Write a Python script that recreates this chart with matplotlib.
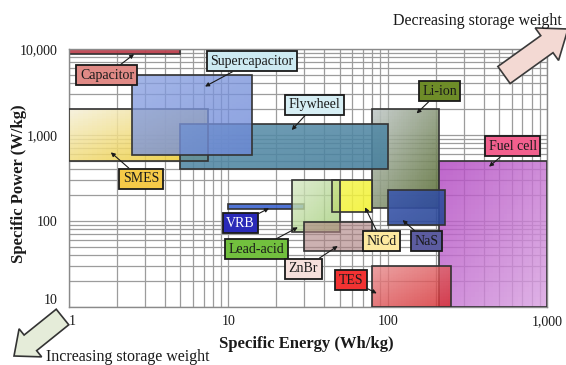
import numpy as np
import matplotlib
matplotlib.use("Agg")
import matplotlib.pyplot as plt
import matplotlib.patches as mpatches
from matplotlib.colors import LinearSegmentedColormap
from matplotlib.ticker import FixedLocator, FixedFormatter, NullFormatter

# Ragone data: specific energy (Wh/kg) and specific power (W/kg) ranges
technologies = ["Capacitor", "Supercapacitor", "SMES", "Flywheel", "Li-ion", "Fuel cell",
                "TES", "NaS", "NiCd", "Lead-acid", "ZnBr", "VRB"]
energy_low = [1, 2.5, 1, 5, 80, 210, 80, 100, 45, 25, 30, 10]
energy_high = [5, 14, 7.5, 100, 210, 1000, 250, 230, 80, 50, 80, 30]
power_low = [8700, 580, 500, 400, 140, 10, 10, 90, 125, 75, 45, 137]
power_high = [10000, 5000, 2000, 1340, 2000, 500, 30, 230, 300, 300, 96, 156]

x_ticks = [1, 10, 100, 1000]
x_tick_labels = ["1", "10", "100", "1,000"]
y_ticks = [10, 100, 1000, 10000]
y_tick_labels = ["10", "100", "1,000", "10,000"]

# box styling: base colour, light corner colour, gradient strength, alpha, zorder
box_style = {
    "Capacitor":      ("#bb3c4a", "#d88890", 0.2, 0.95, 2),
    "Li-ion":         ("#55692e", "#d4dae4", 0.85, 0.88, 2),
    "Flywheel":       ("#467f9c", "#86b0c6", 0.35, 0.88, 3),
    "SMES":           ("#ecc820", "#f6f4ee", 0.9, 0.85, 3),
    "Supercapacitor": ("#6a86d6", "#aabcec", 0.5, 0.78, 4),
    "Fuel cell":      ("#b044c0", "#e6c2ec", -0.75, 0.82, 3),
    "TES":            ("#d42a2e", "#f0b8b8", 0.7, 0.82, 4),
    "NaS":            ("#2a4696", "#4f6cc4", 0.5, 0.9, 5),
    "NiCd":           ("#f2f22a", "#f8f88a", 0.4, 0.85, 5),
    "VRB":            ("#3a62d0", "#5a80e0", 0.2, 0.9, 4),
    "Lead-acid":      ("#a0cc74", "#e4eed8", 0.8, 0.78, 5),
    "ZnBr":           ("#a87a7a", "#c8a8a8", 0.3, 0.62, 6),
}

# callout labels: text centre, arrow target (data units), fill, text colour
callouts = {
    "Capacitor":      ((1.73, 4980), (2.56, 8700), "#e08a86", "#1a1a1a"),
    "Supercapacitor": ((14.1, 7200), (7.14, 3660), "#cdeaf2", "#1a1a1a"),
    "Flywheel":       ((34.9, 2240), (25.0, 1140), "#d6eef4", "#1a1a1a"),
    "Li-ion":         ((212, 3230), (152, 1780), "#6e8c28", "#1a1a1a"),
    "Fuel cell":      ((611, 738), (433, 427), "#f2608e", "#1a1a1a"),
    "SMES":           ((2.83, 309), (1.83, 627), "#f6ca48", "#1a1a1a"),
    "VRB":            ((11.9, 94.2), (18.0, 140), "#2a2ab8", "white"),
    "Lead-acid":      ((15.0, 46.4), (27.3, 84), "#72c03e", "#1a1a1a"),
    "ZnBr":           ((29.6, 27.7), (48.6, 50.9), "#f6e0dc", "#1a1a1a"),
    "NiCd":           ((91.8, 57.9), (72.1, 143.6), "#fde9a0", "#1a1a1a"),
    "NaS":            ((176, 57.9), (124, 102), "#5c5ca0", "#1a1a1a"),
    "TES":            ((59.1, 20.3), (85.4, 14.3), "#f23232", "#1a1a1a"),
}

plt.rcParams["font.family"] = ["Liberation Serif", "DejaVu Serif"]


def shade_box(ax, x0, x1, y0, y1, base, light, strength, alpha, z):
    """Fill a log-space rectangle with a diagonal light-to-base gradient."""
    n = 30
    xs = np.logspace(np.log10(x0), np.log10(x1), n + 1)
    ys = np.logspace(np.log10(y0), np.log10(y1), n + 1)
    u = (np.arange(n) + 0.5) / n
    U, V = np.meshgrid(u, u)
    t = (U + (1 - V)) / 2  # 0 at top-left, 1 at bottom-right
    if strength < 0:
        t = 1 - t
        strength = -strength
    c = 1 - strength * (1 - t)
    cmap = LinearSegmentedColormap.from_list("shade", [light, base])
    ax.pcolormesh(xs, ys, c, cmap=cmap, vmin=0, vmax=1, alpha=alpha,
                  shading="flat", edgecolors="none", antialiased=False, zorder=z)
    ax.add_patch(mpatches.Rectangle((x0, y0), x1 - x0, y1 - y0, fill=False,
                                    ec="#333333", lw=1.2, zorder=z + 0.1))


fig = plt.figure(figsize=(5.66, 3.65), dpi=100)
ax = fig.add_axes([0.1219, 0.1597, 0.8445, 0.7060])
ax.set_xscale("log")
ax.set_yscale("log")
ax.set_xlim(1, 1000)
ax.set_ylim(10, 10000)

ax.set_axisbelow(True)
ax.grid(True, which="both", color="#9c9c9c", lw=0.9)
for s in ax.spines.values():
    s.set_color("#8a8a8a")
    s.set_linewidth(1.0)

ax.xaxis.set_major_locator(FixedLocator(x_ticks))
ax.xaxis.set_major_formatter(FixedFormatter(x_tick_labels))
ax.yaxis.set_major_locator(FixedLocator(y_ticks))
ax.yaxis.set_major_formatter(FixedFormatter(y_tick_labels))
ax.xaxis.set_minor_formatter(NullFormatter())
ax.yaxis.set_minor_formatter(NullFormatter())
ax.tick_params(which="both", length=0, labelsize=10, colors="#1a1a1a")
ax.tick_params(axis="x", pad=6)
ax.tick_params(axis="y", pad=8)
ax.get_yticklabels()[0].set_va("bottom")
ax.get_xticklabels()[0].set_ha("left")

for i, name in enumerate(technologies):
    base, light, strength, alpha, z = box_style[name]
    shade_box(ax, energy_low[i], energy_high[i], power_low[i], power_high[i],
              base, light, strength, alpha, z)

for name, (txt_xy, tip_xy, fc, tc) in callouts.items():
    ax.annotate(name, xy=tip_xy, xytext=txt_xy, ha="center", va="center",
                fontsize=10, color=tc, zorder=10,
                bbox=dict(boxstyle="square,pad=0.25", fc=fc, ec="#1a1a1a", lw=1.3),
                arrowprops=dict(arrowstyle="-|>", color="#1a1a1a", lw=0.8,
                                mutation_scale=6, shrinkA=0, shrinkB=0))

ax.set_xlabel("Specific Energy (Wh/kg)", fontsize=12, fontweight="bold", color="#1a1a1a")
ax.set_ylabel("Specific Power (W/kg)", fontsize=12, fontweight="bold", color="#1a1a1a")
ax.xaxis.set_label_coords(0.497, -0.112)
ax.yaxis.set_label_coords(-0.088, 0.476)

# block arrows for the storage weight trend (inches from the lower-left corner)
up_arrow = mpatches.FancyArrow(5.04, 2.90, 0.64, 0.46, width=0.21, head_width=0.40,
                               head_length=0.26, length_includes_head=True,
                               fc="#f3d9d3", ec="#3a3a3a", lw=1.2,
                               transform=fig.dpi_scale_trans)
down_arrow = mpatches.FancyArrow(0.625, 0.48, -0.485, -0.39, width=0.2, head_width=0.36,
                                 head_length=0.21, length_includes_head=True,
                                 fc="#e5ecd9", ec="#333333", lw=1.2,
                                 transform=fig.dpi_scale_trans)
fig.add_artist(up_arrow)
fig.add_artist(down_arrow)

fig.text(0.8436, 0.9433, "Decreasing storage weight", fontsize=11.5,
         ha="center", va="center", color="#1a1a1a")
fig.text(0.226, 0.0219, "Increasing storage weight", fontsize=11.5,
         ha="center", va="center", color="#1a1a1a")

fig.savefig("out.png", dpi=100)
